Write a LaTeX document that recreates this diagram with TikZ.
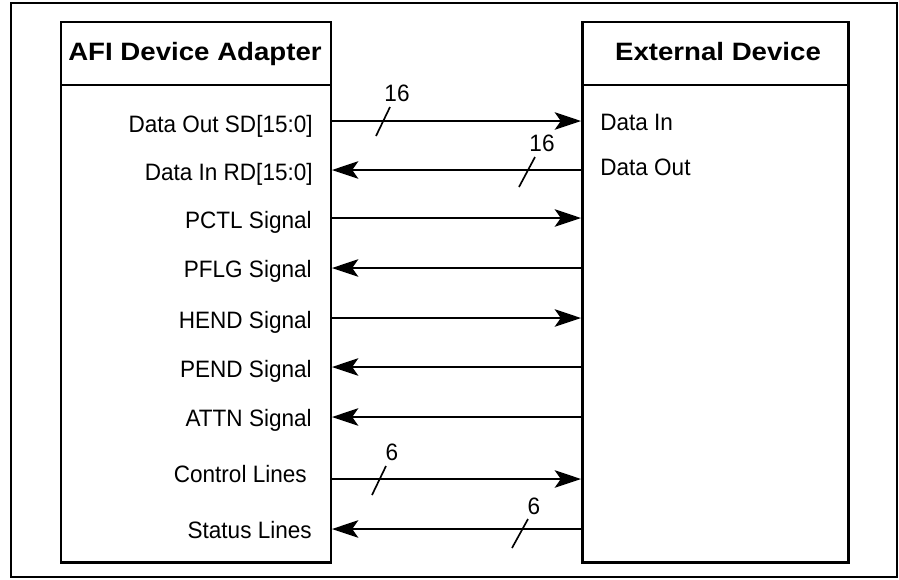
\documentclass[tikz,border=0pt]{standalone}
\usepackage{fontspec}
\setmainfont{Liberation Sans}
\newfontfamily\lblfont[FakeStretch=0.95]{Liberation Sans}
\newfontfamily\headfont[FakeStretch=1.1]{Liberation Sans}
\usetikzlibrary{arrows.meta}

\tikzset{
  boxline/.style={line width=1.7pt},
  sigline/.style={line width=0.95pt},
  sigtip/.style={sigline, -{Stealth[length=15pt, width=10pt, inset=3.5pt]}},
  lbl/.style={font=\lblfont\fontsize{13.5}{16}\selectfont, inner sep=0pt},
  head/.style={font=\headfont\fontsize{14.3}{17}\selectfont\bfseries, inner sep=0pt}
}

\begin{document}
\begin{tikzpicture}[x=0.02cm, y=-0.02cm]
\useasboundingbox (0,0) rectangle (899,579);
\draw[line width=1.2pt] (11,3) rectangle (897,577);

\begin{scope}
    \draw[boxline] (61,22) rectangle (331,562);
    \draw[boxline] (61,85) -- (331,85);
    \node[head, anchor=base] (afi) at (195,60) {AFI Device Adapter};
\end{scope}

\begin{scope}
    \draw[boxline] (582,22) rectangle (848,562);
    \draw[boxline] (582,85) -- (848,85);
    \node[head, anchor=base] (ext) at (718,60) {External Device};
\end{scope}

% signal rows: line y / label baseline / label right end / label / from / to
\foreach \y/\b/\e/\txt/\a/\z [count=\i] in {
    121/132/313/Data Out SD[15:0]/l/r,
    170/180/313/Data In RD[15:0]/r/l,
    218/228/312/PCTL Signal/l/r,
    268/277/312/PFLG Signal/r/l,
    318/328/312/HEND Signal/l/r,
    367/377/312/PEND Signal/r/l,
    417/426/312/ATTN Signal/r/l,
    479/482/307/Control Lines/l/r,
    529/538/312/Status Lines/r/l}
{
    \coordinate (l\i) at (332,\y);
    \coordinate (r\i) at (581,\y);
    \node[lbl, anchor=base east] (s\i) at (\e,\b) {\txt};
    \draw[sigtip] (\a\i) -- (\z\i);
}

\node[lbl, anchor=base west] (din) at (600,130) {Data In};
\node[lbl, anchor=base west] (dout) at (600,175) {Data Out};

% bus widths
\draw[sigline] (376,136) -- (390,107);
\node[lbl] (w1) at (397,93) {16};
\draw[sigline] (519,187) -- (535,157);
\node[lbl] (w2) at (542,143) {16};
\draw[sigline] (372,495) -- (386,466);
\node[lbl] (w8) at (392,452) {6};
\draw[sigline] (512,548) -- (528,519);
\node[lbl] (w9) at (534,506) {6};
\end{tikzpicture}
\end{document}
